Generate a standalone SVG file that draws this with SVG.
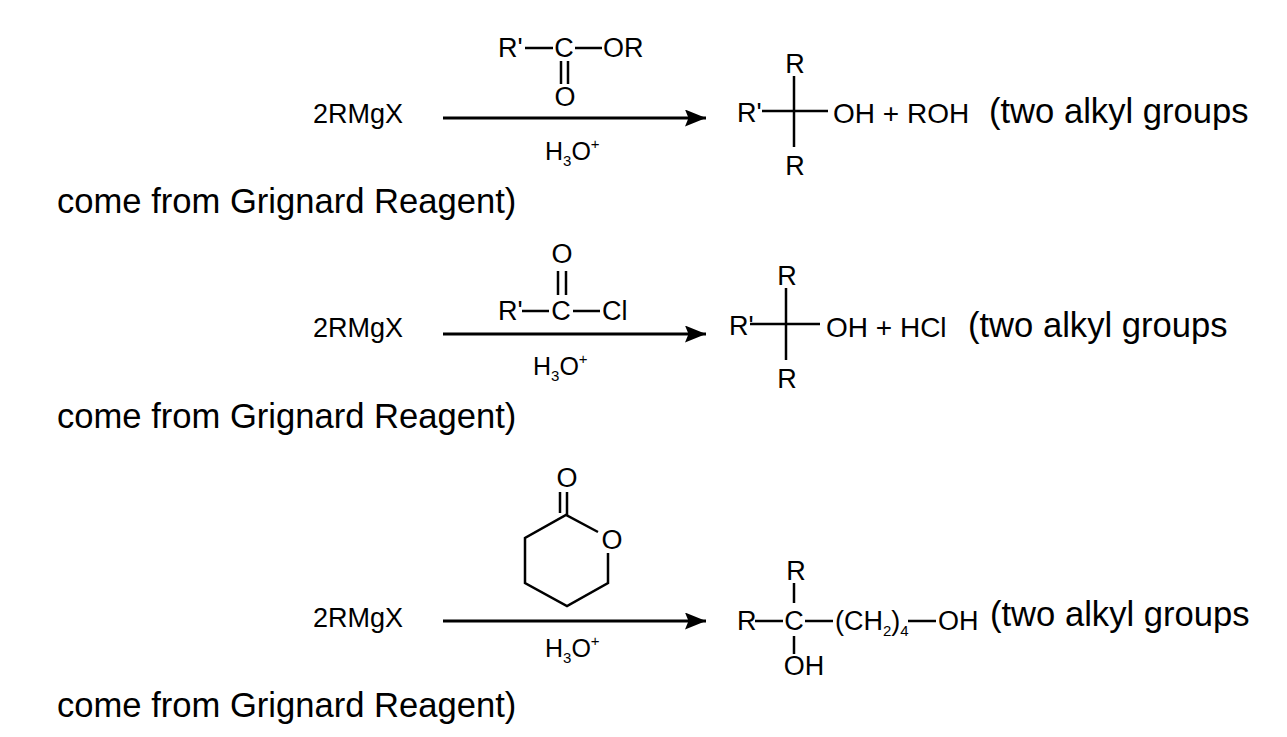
<svg xmlns="http://www.w3.org/2000/svg" width="1287" height="737" viewBox="0 0 1287 737">
<style>
text{font-family:"Liberation Sans",Arial,sans-serif;fill:#000}
.c{font-size:27px}
.p{font-size:28px}
.h{font-size:25px}
.s{font-size:15px}
.big{font-size:34.6px}
.m{text-anchor:middle}
.b{stroke:#000;stroke-width:2.5;fill:none}
.arr{stroke:#000;stroke-width:3;fill:none;marker-end:url(#ah)}
</style>
<defs>
<marker id="ah" markerUnits="userSpaceOnUse" markerWidth="22" markerHeight="18" refX="21" refY="8.5" orient="auto">
<path d="M0,0 L21,8.5 L0,17 L3.5,8.5 z" fill="#000"/>
</marker>
</defs>
<rect width="1287" height="737" fill="#fff"/>

<!-- Row 1 -->
<g id="reactant1"><text class="c" x="313" y="123">2RMgX</text></g>
<g id="reagent1">
<text class="c" x="498" y="57">R'</text>
<line class="b" x1="525" y1="48" x2="553" y2="48"/>
<text class="c m" x="564" y="57">C</text>
<line class="b" x1="575" y1="48" x2="602" y2="48"/>
<text class="c" x="603" y="57">OR</text>
<line class="b" x1="561" y1="61" x2="561" y2="84"/>
<line class="b" x1="568" y1="61" x2="568" y2="84"/>
<text class="c m" x="565" y="106">O</text>
</g>
<g id="cond1"><text class="h" x="545" y="160">H<tspan class="s" dy="6">3</tspan><tspan dy="-6">O</tspan><tspan class="s" dy="-11">+</tspan></text></g>
<g id="product1">
<text class="c" x="737" y="122">R'</text>
<line class="b" x1="762" y1="111" x2="828" y2="111"/>
<line class="b" x1="794" y1="76" x2="794" y2="147"/>
<text class="c m" x="795" y="73">R</text>
<text class="c m" x="795" y="175">R</text>
<text class="p" x="833" y="123">OH + ROH</text>
</g>
<g id="note1">
<text class="big" x="989" y="123">(two alkyl groups</text>
<text class="big" x="57" y="213">come from Grignard Reagent)</text>
</g>

<!-- Row 2 -->
<g id="reactant2"><text class="c" x="313" y="337">2RMgX</text></g>
<g id="reagent2">
<text class="c m" x="562" y="263">O</text>
<line class="b" x1="558" y1="271" x2="558" y2="295"/>
<line class="b" x1="566" y1="271" x2="566" y2="295"/>
<text class="c" x="498" y="320">R'</text>
<line class="b" x1="522" y1="311" x2="549" y2="311"/>
<text class="c m" x="561" y="320">C</text>
<line class="b" x1="573" y1="311" x2="600" y2="311"/>
<text class="c" x="602" y="320">Cl</text>
</g>
<g id="cond2"><text class="h" x="533" y="375">H<tspan class="s" dy="6">3</tspan><tspan dy="-6">O</tspan><tspan class="s" dy="-11">+</tspan></text></g>
<g id="product2">
<text class="c" x="729" y="335">R'</text>
<line class="b" x1="750" y1="324" x2="820" y2="324"/>
<line class="b" x1="786" y1="288" x2="786" y2="360"/>
<text class="c m" x="787" y="285">R</text>
<text class="c m" x="787" y="388">R</text>
<text class="p" x="826" y="337">OH + HCl</text>
</g>
<g id="note2">
<text class="big" x="968" y="337">(two alkyl groups</text>
<text class="big" x="57" y="428">come from Grignard Reagent)</text>
</g>

<!-- Row 3 -->
<g id="reactant3"><text class="c" x="313" y="627">2RMgX</text></g>
<g id="reagent3">
<text class="c m" x="567" y="487">O</text>
<line class="b" x1="560" y1="492" x2="560" y2="513"/>
<line class="b" x1="567" y1="492" x2="567" y2="515"/>
<polyline class="b" points="598,532 566,515 525,538 525,583 567,606 608,583 608,553"/>
<text class="c m" x="612" y="549">O</text>
</g>
<g id="cond3"><text class="h" x="545" y="657">H<tspan class="s" dy="6">3</tspan><tspan dy="-6">O</tspan><tspan class="s" dy="-11">+</tspan></text></g>
<g id="product3">
<text class="c m" x="796" y="580">R</text>
<line class="b" x1="794" y1="583" x2="794" y2="603"/>
<text class="c" x="737" y="630">R</text>
<line class="b" x1="755" y1="621" x2="783" y2="621"/>
<text class="c m" x="794" y="630">C</text>
<line class="b" x1="805" y1="621" x2="833" y2="621"/>
<text class="c" x="835" y="630">(CH<tspan class="s" dy="6">2</tspan><tspan dy="-6">)</tspan><tspan class="s" dy="6">4</tspan></text>
<line class="b" x1="908" y1="621" x2="936" y2="621"/>
<text class="c" x="938" y="630">OH</text>
<line class="b" x1="794" y1="636" x2="794" y2="654"/>
<text class="c m" x="804" y="675">OH</text>
</g>
<g id="note3">
<text class="big" x="990" y="626">(two alkyl groups</text>
<text class="big" x="57" y="717">come from Grignard Reagent)</text>
</g>

<g id="connectors">
<line class="arr" x1="443" y1="118" x2="706" y2="118"/>
<line class="arr" x1="443" y1="334" x2="706" y2="334"/>
<line class="arr" x1="443" y1="621" x2="706" y2="621"/>
</g>
</svg>
